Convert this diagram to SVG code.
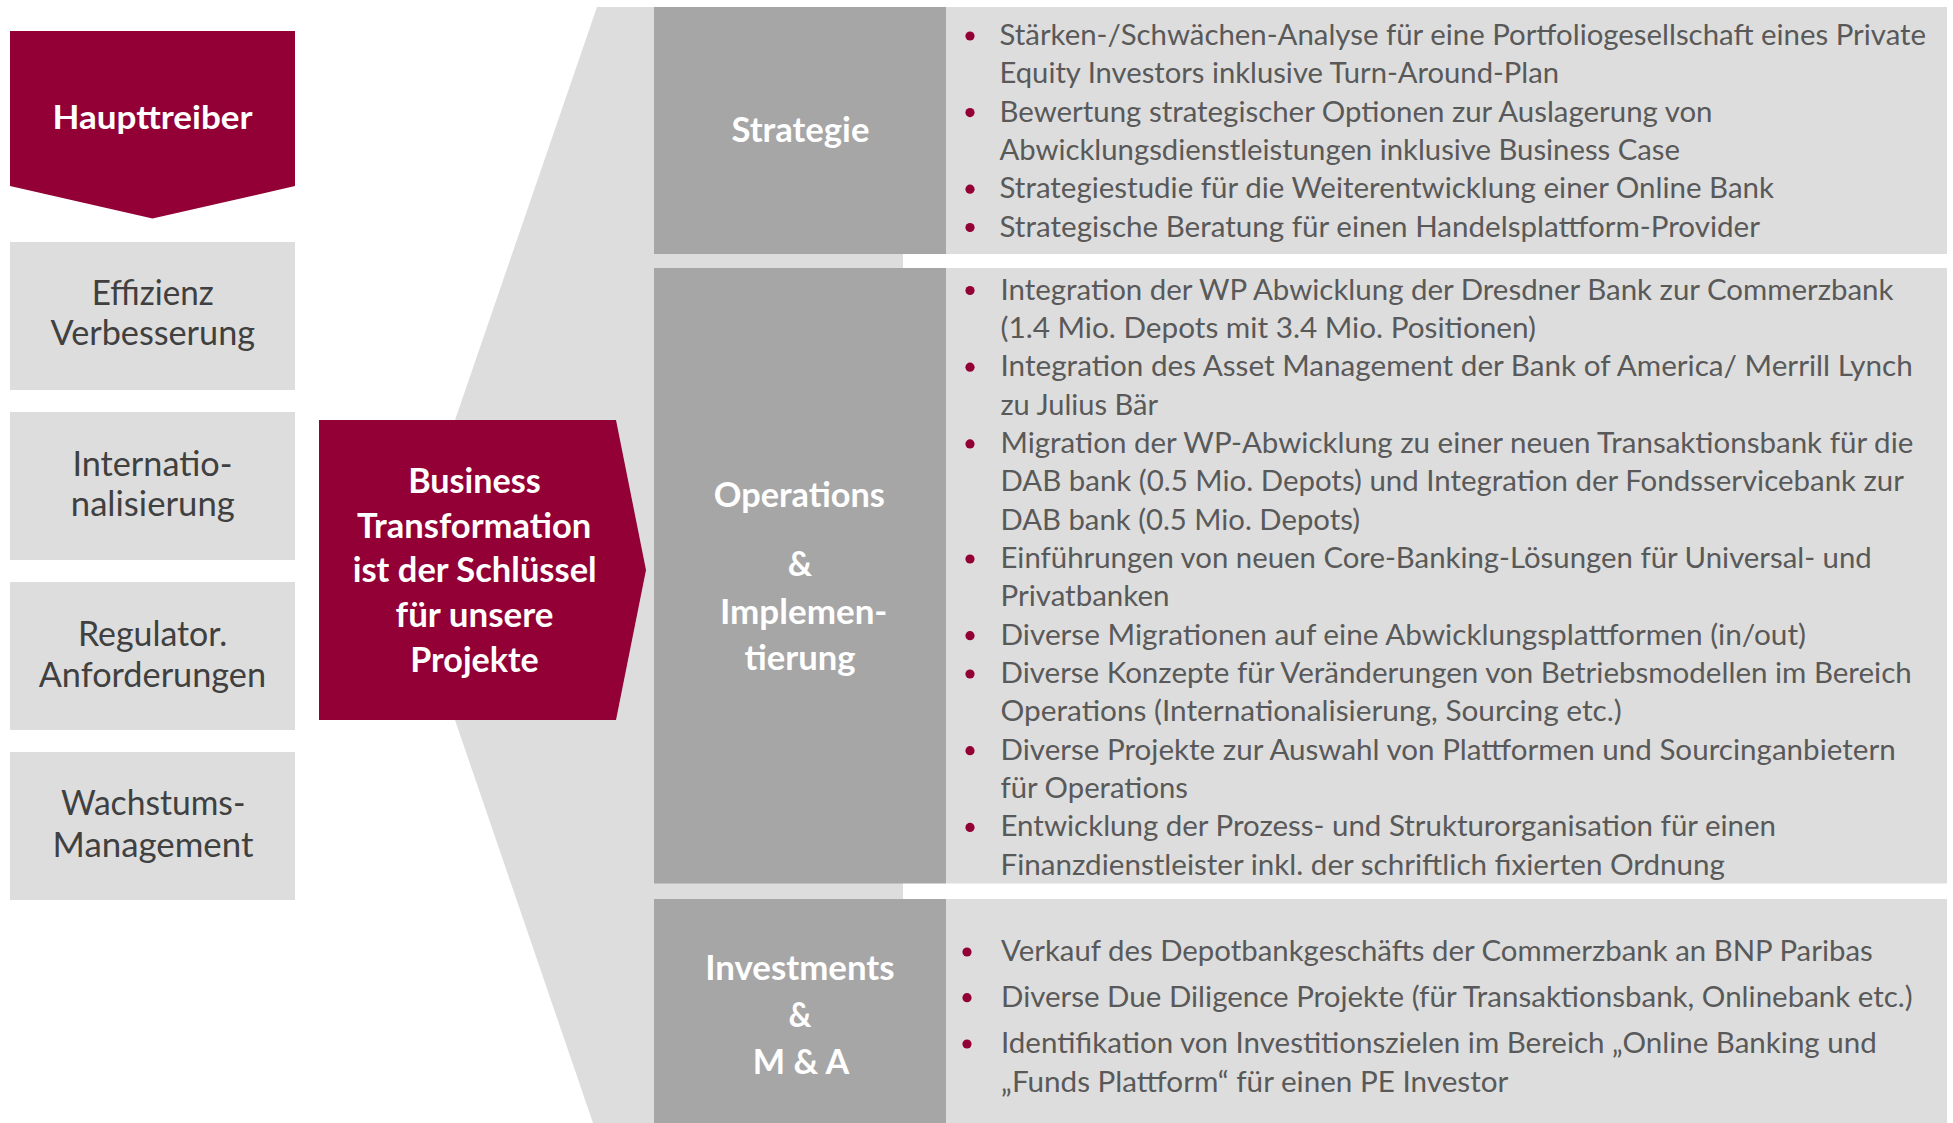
<svg xmlns="http://www.w3.org/2000/svg" width="1953" height="1123" viewBox="0 0 1953 1123">
  <style>
    .bg { fill: #ffffff; }
    .light { fill: #dddddd; }
    .mid { fill: #a6a6a6; }
    .red { fill: #930036; }
    .drv { font-family: Lato, "Open Sans", "Liberation Sans", sans-serif; font-size: 34px; fill: #404040; text-anchor: middle; }
    .hd { font-family: Lato, "Open Sans", "Liberation Sans", sans-serif; font-size: 32px; font-weight: bold; fill: #ffffff; text-anchor: middle; }
    .key { font-family: Lato, "Open Sans", "Liberation Sans", sans-serif; font-size: 34px; font-weight: bold; fill: #ffffff; text-anchor: middle; }
    .lbl { font-family: Lato, "Open Sans", "Liberation Sans", sans-serif; font-size: 34px; font-weight: bold; fill: #ffffff; text-anchor: middle; }
    .bt { font-family: Lato, "Open Sans", "Liberation Sans", sans-serif; font-size: 29px; fill: #595959; }
    .dot { fill: #930036; }
  </style>
  <rect class="bg" x="0" y="0" width="1953" height="1123"/>

  <g id="connectors">
    <polygon id="funnel" class="light" points="597,7 903,7 903,1123 593,1123 455,720 455,420"/>
  </g>

  <g id="haupttreiber">
    <polygon class="red" points="10,31 295,31 295,186 152.5,218.6 10,186"/>
    <text class="hd" x="152.5" y="129" textLength="200" lengthAdjust="spacingAndGlyphs">Haupttreiber</text>
  </g>

  <g id="effizienz">
    <rect class="light" x="10" y="242" width="285" height="148"/>
    <text class="drv" x="152.8" y="305" textLength="122" lengthAdjust="spacingAndGlyphs">Effizienz</text>
    <text class="drv" x="152.8" y="345" textLength="204.5" lengthAdjust="spacingAndGlyphs">Verbesserung</text>
  </g>

  <g id="internationalisierung">
    <rect class="light" x="10" y="412" width="285" height="148"/>
    <text class="drv" x="152.4" y="476" textLength="160" lengthAdjust="spacingAndGlyphs">Internatio-</text>
    <text class="drv" x="152.8" y="516" textLength="164" lengthAdjust="spacingAndGlyphs">nalisierung</text>
  </g>

  <g id="regulator">
    <rect class="light" x="10" y="582" width="285" height="148"/>
    <text class="drv" x="152.6" y="646" textLength="149.4" lengthAdjust="spacingAndGlyphs">Regulator.</text>
    <text class="drv" x="152.4" y="687" textLength="227.3" lengthAdjust="spacingAndGlyphs">Anforderungen</text>
  </g>

  <g id="wachstum">
    <rect class="light" x="10" y="752" width="285" height="148"/>
    <text class="drv" x="153.2" y="815" textLength="184.4" lengthAdjust="spacingAndGlyphs">Wachstums-</text>
    <text class="drv" x="153" y="857" textLength="200.8" lengthAdjust="spacingAndGlyphs">Management</text>
  </g>

  <g id="business-transformation">
    <polygon class="red" points="319,420 616,420 646,570 616,720 319,720"/>
    <text class="key" x="474.5" y="493" textLength="132.6" lengthAdjust="spacingAndGlyphs">Business</text>
    <text class="key" x="474.1" y="537.5" textLength="234.4" lengthAdjust="spacingAndGlyphs">Transformation</text>
    <text class="key" x="474.7" y="582" textLength="244" lengthAdjust="spacingAndGlyphs">ist der Schlüssel</text>
    <text class="key" x="474.5" y="627.4" textLength="157.8" lengthAdjust="spacingAndGlyphs">für unsere</text>
    <text class="key" x="474.5" y="672" textLength="128.4" lengthAdjust="spacingAndGlyphs">Projekte</text>
  </g>

  <g id="strategie">
    <rect class="mid" x="654" y="7" width="292" height="247"/>
    <rect class="light" x="946" y="7" width="1001" height="247"/>
    <text class="lbl" x="800.4" y="142" textLength="138" lengthAdjust="spacingAndGlyphs">Strategie</text>
    <circle class="dot" cx="970" cy="36" r="4.6"/>
    <text class="bt" x="999.5" y="45" textLength="926.5" lengthAdjust="spacingAndGlyphs">Stärken-/Schwächen-Analyse für eine Portfoliogesellschaft eines Private</text>
    <text class="bt" x="999.5" y="83.3" textLength="559.5" lengthAdjust="spacingAndGlyphs">Equity Investors inklusive Turn-Around-Plan</text>
    <circle class="dot" cx="970" cy="112.6" r="4.6"/>
    <text class="bt" x="999.5" y="121.6" textLength="713" lengthAdjust="spacingAndGlyphs">Bewertung strategischer Optionen zur Auslagerung von</text>
    <text class="bt" x="999.5" y="159.9" textLength="680.5" lengthAdjust="spacingAndGlyphs">Abwicklungsdienstleistungen inklusive Business Case</text>
    <circle class="dot" cx="970" cy="189.2" r="4.6"/>
    <text class="bt" x="999.5" y="198.2" textLength="774.5" lengthAdjust="spacingAndGlyphs">Strategiestudie für die Weiterentwicklung einer Online Bank</text>
    <circle class="dot" cx="970" cy="227.5" r="4.6"/>
    <text class="bt" x="999.5" y="236.5" textLength="760.5" lengthAdjust="spacingAndGlyphs">Strategische Beratung für einen Handelsplattform-Provider</text>
  </g>

  <g id="operations">
    <rect class="mid" x="654" y="268" width="292" height="615.5"/>
    <rect class="light" x="946" y="268" width="1001" height="615.5"/>
    <text class="lbl" x="799.3" y="507" textLength="171" lengthAdjust="spacingAndGlyphs">Operations</text>
    <text class="lbl" x="800" y="576" textLength="24.4" lengthAdjust="spacingAndGlyphs">&amp;</text>
    <text class="lbl" x="803.7" y="624" textLength="167.5" lengthAdjust="spacingAndGlyphs">Implemen-</text>
    <text class="lbl" x="800" y="670" textLength="111" lengthAdjust="spacingAndGlyphs">tierung</text>

    <circle class="dot" cx="970" cy="290.5" r="4.6"/>
    <text class="bt" x="1000.5" y="299.5" textLength="893" lengthAdjust="spacingAndGlyphs">Integration der WP Abwicklung der Dresdner Bank zur Commerzbank</text>
    <text class="bt" x="1000.5" y="337.85" textLength="535.5" lengthAdjust="spacingAndGlyphs">(1.4 Mio. Depots mit 3.4 Mio. Positionen)</text>
    <circle class="dot" cx="970" cy="367.2" r="4.6"/>
    <text class="bt" x="1000.5" y="376.2" textLength="912.2" lengthAdjust="spacingAndGlyphs">Integration des Asset Management der Bank of America/ Merrill Lynch</text>
    <text class="bt" x="1000.5" y="414.55" textLength="157.5" lengthAdjust="spacingAndGlyphs">zu Julius Bär</text>
    <circle class="dot" cx="970" cy="443.9" r="4.6"/>
    <text class="bt" x="1000.5" y="452.9" textLength="912.8" lengthAdjust="spacingAndGlyphs">Migration der WP-Abwicklung zu einer neuen Transaktionsbank für die</text>
    <text class="bt" x="1000.5" y="491.25" textLength="903.5" lengthAdjust="spacingAndGlyphs">DAB bank (0.5 Mio. Depots) und Integration der Fondsservicebank zur</text>
    <text class="bt" x="1000.5" y="529.6" textLength="359.5" lengthAdjust="spacingAndGlyphs">DAB bank (0.5 Mio. Depots)</text>
    <circle class="dot" cx="970" cy="559" r="4.6"/>
    <text class="bt" x="1000.5" y="567.95" textLength="871.2" lengthAdjust="spacingAndGlyphs">Einführungen von neuen Core-Banking-Lösungen für Universal- und</text>
    <text class="bt" x="1000.5" y="606.3" textLength="169" lengthAdjust="spacingAndGlyphs">Privatbanken</text>
    <circle class="dot" cx="970" cy="635.7" r="4.6"/>
    <text class="bt" x="1000.5" y="644.65" textLength="805.5" lengthAdjust="spacingAndGlyphs">Diverse Migrationen auf eine Abwicklungsplattformen (in/out)</text>
    <circle class="dot" cx="970" cy="674" r="4.6"/>
    <text class="bt" x="1000.5" y="683" textLength="911.2" lengthAdjust="spacingAndGlyphs">Diverse Konzepte für Veränderungen von Betriebsmodellen im Bereich</text>
    <text class="bt" x="1000.5" y="721.35" textLength="621.2" lengthAdjust="spacingAndGlyphs">Operations (Internationalisierung, Sourcing etc.)</text>
    <circle class="dot" cx="970" cy="750.7" r="4.6"/>
    <text class="bt" x="1000.5" y="759.7" textLength="895.2" lengthAdjust="spacingAndGlyphs">Diverse Projekte zur Auswahl von Plattformen und Sourcinganbietern</text>
    <text class="bt" x="1000.5" y="798.05" textLength="187.5" lengthAdjust="spacingAndGlyphs">für Operations</text>
    <circle class="dot" cx="970" cy="827.4" r="4.6"/>
    <text class="bt" x="1000.5" y="836.4" textLength="775.5" lengthAdjust="spacingAndGlyphs">Entwicklung der Prozess- und Strukturorganisation für einen</text>
    <text class="bt" x="1000.5" y="874.75" textLength="724.5" lengthAdjust="spacingAndGlyphs">Finanzdienstleister inkl. der schriftlich fixierten Ordnung</text>
  </g>

  <g id="investments">
    <rect class="mid" x="654" y="899" width="292" height="224"/>
    <rect class="light" x="946" y="899" width="1001" height="224"/>
    <text class="lbl" x="799.9" y="980" textLength="189.4" lengthAdjust="spacingAndGlyphs">Investments</text>
    <text class="lbl" x="800" y="1027" textLength="23" lengthAdjust="spacingAndGlyphs">&amp;</text>
    <text class="lbl" x="801" y="1074" textLength="96.4" lengthAdjust="spacingAndGlyphs">M &amp; A</text>

    <circle class="dot" cx="967" cy="952" r="4.6"/>
    <text class="bt" x="1001" y="961" textLength="871.7" lengthAdjust="spacingAndGlyphs">Verkauf des Depotbankgeschäfts der Commerzbank an BNP Paribas</text>
    <circle class="dot" cx="967" cy="997.7" r="4.6"/>
    <text class="bt" x="1001" y="1006.7" textLength="911.7" lengthAdjust="spacingAndGlyphs">Diverse Due Diligence Projekte (für Transaktionsbank, Onlinebank etc.)</text>
    <circle class="dot" cx="967" cy="1044" r="4.6"/>
    <text class="bt" x="1001" y="1053" textLength="875.7" lengthAdjust="spacingAndGlyphs">Identifikation von Investitionszielen im Bereich „Online Banking und</text>
    <text class="bt" x="1001" y="1091.7" textLength="507.3" lengthAdjust="spacingAndGlyphs">„Funds Plattform“ für einen PE Investor</text>
  </g>
</svg>
